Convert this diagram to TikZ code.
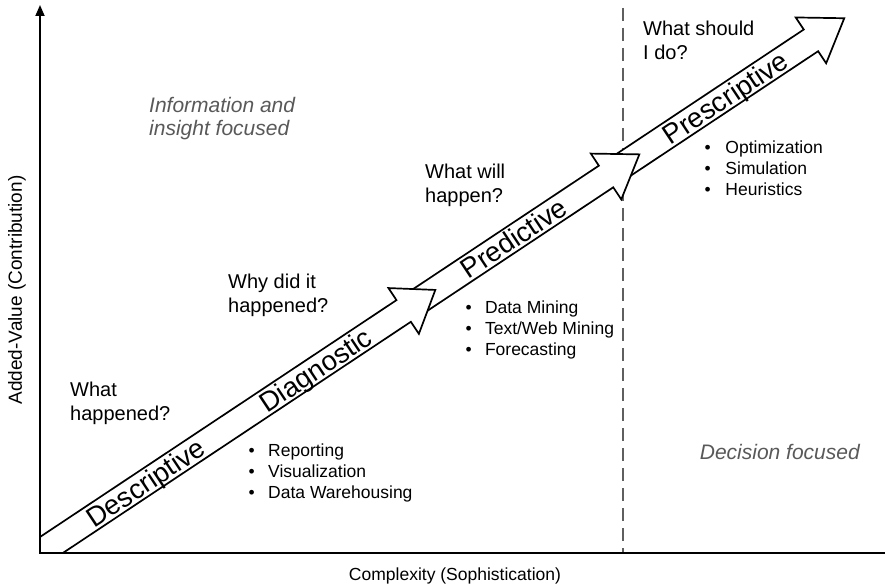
\documentclass[tikz,border=0pt]{standalone}
\usepackage{fontspec}
\setmainfont{Liberation Sans}
\usetikzlibrary{arrows.meta}
\definecolor{focusgray}{RGB}{89,89,89}
\definecolor{dashgray}{RGB}{95,95,95}
\begin{document}
\begin{tikzpicture}[x=1pt,y=-1pt,
  bigarrow/.style={draw=black,fill=white,line width=1.7pt,line join=miter},
  question/.style={anchor=north west,inner sep=0pt,align=left,font=\fontsize{20}{24}\selectfont},
  bullets/.style={anchor=north west,inner sep=0pt,align=left,font=\fontsize{17.5}{21}\selectfont},
  focus/.style={inner sep=0pt,align=left,text=focusgray,font=\fontsize{21}{23.5}\selectfont\itshape},
  stage/.style={anchor=base,inner sep=0pt,rotate=33.6,font=\fontsize{27.5}{30}\selectfont},
  axislabel/.style={inner sep=0pt,font=\fontsize{17.5}{20}\selectfont},
  axisline/.style={line width=1.8pt},
  divider/.style={draw=dashgray,line width=1.3pt,dash pattern=on 13pt off 7pt}]
\useasboundingbox (0,0) rectangle (885,588);

% divider
\coordinate (dtop) at (623,8);
\coordinate (dbot) at (623,553);
\draw[divider] (dtop) -- (dbot);

% arrows (drawn last to first, so each head covers the next tail)
\begin{scope}[shift={(47.2,547.8)},rotate=33.6]
  \draw[bigarrow] (676,-13) -- (917,-13) -- (917,-27.5) -- (957,0) -- (917,27.5) -- (917,13) -- (676,13) -- cycle;
  \draw[bigarrow] (436,-13) -- (671,-13) -- (671,-27.5) -- (711,0) -- (671,27.5) -- (671,13) -- (436,13) -- cycle;
\end{scope}
\begin{scope}
  \clip (40,0) rectangle (885,553);
  \begin{scope}[shift={(47.2,547.8)},rotate=33.6]
    \draw[bigarrow] (-40,-13) -- (428,-13) -- (428,-27.5) -- (466,0) -- (428,27.5) -- (428,13) -- (-40,13) -- cycle;
  \end{scope}
\end{scope}

% stage labels
\begin{scope}[shift={(47.2,547.8)},rotate=33.6]
  \node[stage] (descr) at (118,10) {Descriptive};
  \node[stage] (diagn) at (322,10) {Diagnostic};
  \node[stage] (predi) at (560,10) {Predictive};
  \node[stage] (presc) at (814,10) {Prescriptive};
\end{scope}

% axes
\coordinate (O) at (40,553);
\coordinate (ytop) at (40,5);
\coordinate (xend) at (885,553);
\draw[axisline,{Triangle[length=11pt,width=9pt]}-] (ytop) -- (O) -- (xend);

% questions
\node[question] (q1) at (70,381.5) {What\\happened?};
\node[question] (q2) at (228,273.5) {Why did it\\happened?};
\node[question] (q3) at (425,163.5) {What will\\happen?};
\node[question] (q4) at (643,20.5) {What should\\I do?};

% bullet lists
\node[bullets] (l1) at (248.5,443.5) {\makebox[19.5pt][l]{•}Reporting\\\makebox[19.5pt][l]{•}Visualization\\\makebox[19.5pt][l]{•}Data Warehousing};
\node[bullets] (l2) at (465.3,300.5) {\makebox[19.5pt][l]{•}Data Mining\\\makebox[19.5pt][l]{•}Text/Web Mining\\\makebox[19.5pt][l]{•}Forecasting};
\node[bullets] (l3) at (704.3,140.5) {\makebox[21pt][l]{•}Optimization\\\makebox[21pt][l]{•}Simulation\\\makebox[21pt][l]{•}Heuristics};

% focus notes
\node[focus,anchor=north west] (info) at (149,97) {Information and\\insight focused};
\node[focus,anchor=base east] (deci) at (860,459) {Decision focused};

% axis labels
\node[axislabel,rotate=90,font=\fontsize{19}{22}\selectfont] (ylab) at (17,290) {Added-Value (Contribution)};
\node[axislabel] (xlab) at (455,576) {Complexity (Sophistication)};
\end{tikzpicture}
\end{document}
